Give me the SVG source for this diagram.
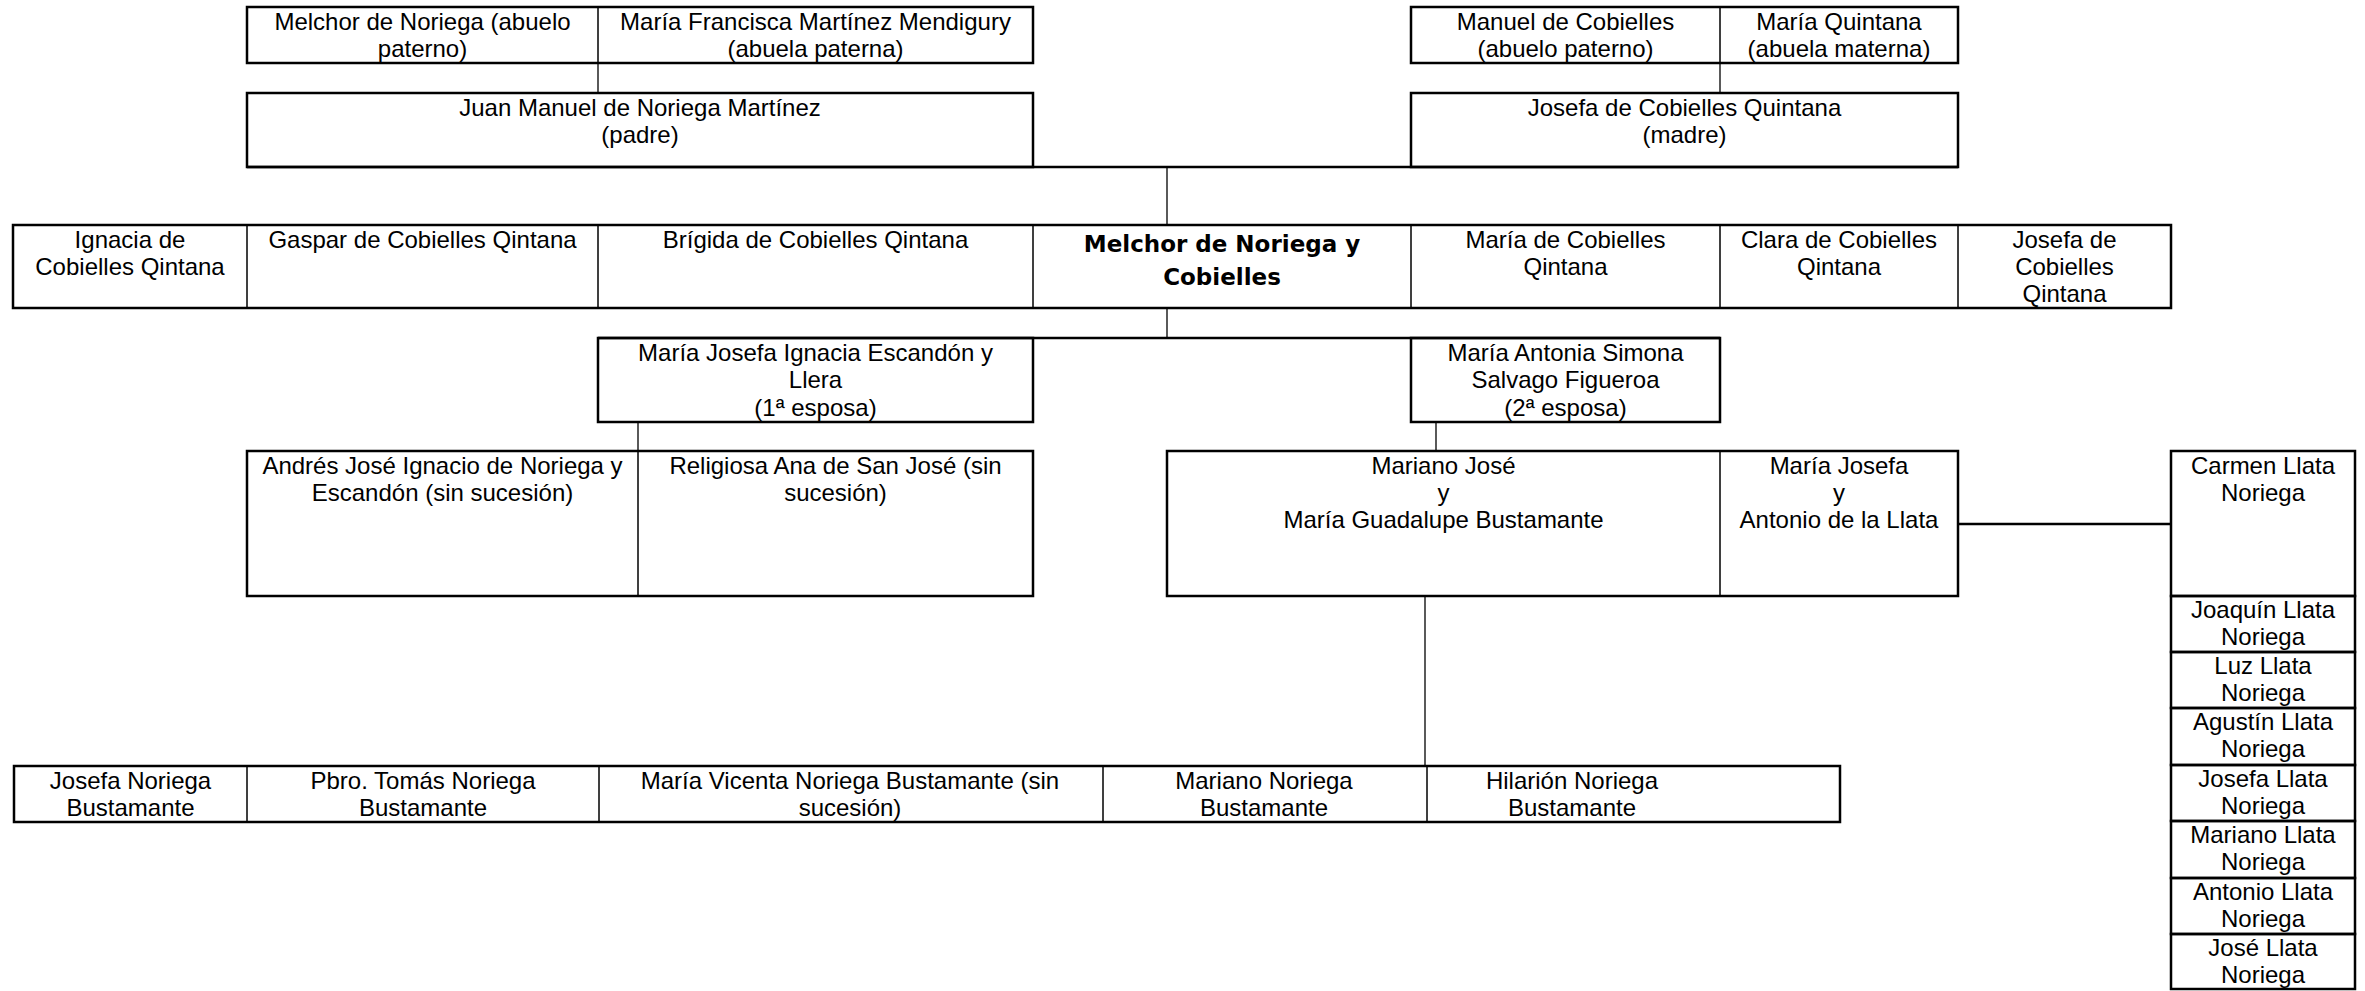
<svg xmlns="http://www.w3.org/2000/svg" width="2365" height="991" viewBox="0 0 2365 991">
<style>
.bg{fill:#fff}
.cell{fill:none;stroke:#000;stroke-width:1}
.frame{fill:none;stroke:#000;stroke-width:2.5}
.thick{stroke:#000;stroke-width:2.5}
.conn{stroke:#000;stroke-width:1.3;fill:none}
text{font-family:"Liberation Sans",Arial,sans-serif;font-size:24px;fill:#000;text-anchor:middle}
text.bold{font-family:"DejaVu Sans","Liberation Sans",sans-serif;font-weight:bold;font-size:23px}
</style>
<rect class="bg" x="0" y="0" width="2365" height="991"/>

<g id="connectors">
<line class="conn" x1="598" y1="63" x2="598" y2="93"/>
<line class="conn" x1="1720" y1="63" x2="1720" y2="93"/>
<line class="conn" x1="1167" y1="167" x2="1167" y2="225"/>
<line class="conn" x1="1167" y1="308" x2="1167" y2="338"/>
<line class="conn" x1="638" y1="422" x2="638" y2="451"/>
<line class="conn" x1="1436" y1="422" x2="1436" y2="451"/>
<line class="conn" x1="1425" y1="596" x2="1425" y2="766"/>
<line class="thick" x1="1958" y1="524" x2="2171" y2="524"/>
</g>

<!-- Row 1 -->
<g id="abuelo-paterno-noriega"><rect class="cell" x="247" y="7" width="351" height="56"/>
<text x="422.5" y="30"><tspan x="422.5">Melchor de Noriega (abuelo</tspan><tspan x="422.5" dy="27">paterno)</tspan></text></g>
<g id="abuela-paterna"><rect class="cell" x="598" y="7" width="435" height="56"/>
<text x="815.5" y="30"><tspan x="815.5">María Francisca Martínez Mendigury</tspan><tspan x="815.5" dy="27">(abuela paterna)</tspan></text></g>
<rect class="frame" x="247" y="7" width="786" height="56"/>
<g id="abuelo-cobielles"><rect class="cell" x="1411" y="7" width="309" height="56"/>
<text x="1565.5" y="30"><tspan x="1565.5">Manuel de Cobielles</tspan><tspan x="1565.5" dy="27">(abuelo paterno)</tspan></text></g>
<g id="abuela-materna"><rect class="cell" x="1720" y="7" width="238" height="56"/>
<text x="1839" y="30"><tspan x="1839">María Quintana</tspan><tspan x="1839" dy="27">(abuela materna)</tspan></text></g>
<rect class="frame" x="1411" y="7" width="547" height="56"/>

<!-- Row 2 -->
<g id="padre"><rect class="frame" x="247" y="93" width="786" height="74"/>
<text x="640" y="115.5"><tspan x="640">Juan Manuel de Noriega Martínez</tspan><tspan x="640" dy="27">(padre)</tspan></text></g>
<g id="madre"><rect class="frame" x="1411" y="93" width="547" height="74"/>
<text x="1684.5" y="115.5"><tspan x="1684.5">Josefa de Cobielles Quintana</tspan><tspan x="1684.5" dy="27">(madre)</tspan></text></g>
<line class="thick" x1="247" y1="167" x2="1958" y2="167"/>

<!-- Row 3 -->
<g id="ignacia"><rect class="cell" x="13" y="225" width="234" height="83"/>
<text x="130" y="247.5"><tspan x="130">Ignacia de</tspan><tspan x="130" dy="27">Cobielles Qintana</tspan></text></g>
<g id="gaspar"><rect class="cell" x="247" y="225" width="351" height="83"/>
<text x="422.5" y="247.5">Gaspar de Cobielles Qintana</text></g>
<g id="brigida"><rect class="cell" x="598" y="225" width="435" height="83"/>
<text x="815.5" y="247.5">Brígida de Cobielles Qintana</text></g>
<g id="melchor"><rect class="cell" x="1033" y="225" width="378" height="83"/>
<text class="bold" x="1222" y="251.5"><tspan x="1222">Melchor de Noriega y</tspan><tspan x="1222" dy="33">Cobielles</tspan></text></g>
<g id="maria-cobielles"><rect class="cell" x="1411" y="225" width="309" height="83"/>
<text x="1565.5" y="247.5"><tspan x="1565.5">María de Cobielles</tspan><tspan x="1565.5" dy="27">Qintana</tspan></text></g>
<g id="clara"><rect class="cell" x="1720" y="225" width="238" height="83"/>
<text x="1839" y="247.5"><tspan x="1839">Clara de Cobielles</tspan><tspan x="1839" dy="27">Qintana</tspan></text></g>
<g id="josefa-cobielles"><rect class="cell" x="1958" y="225" width="213" height="83"/>
<text x="2064.5" y="247.5"><tspan x="2064.5">Josefa de</tspan><tspan x="2064.5" dy="27">Cobielles</tspan><tspan x="2064.5" dy="27">Qintana</tspan></text></g>
<rect class="frame" x="13" y="225" width="2158" height="83"/>

<!-- Row 4 -->
<g id="esposa1"><rect class="frame" x="598" y="338" width="435" height="84"/>
<text x="815.5" y="360.5"><tspan x="815.5">María Josefa Ignacia Escandón y</tspan><tspan x="815.5" dy="27.5">Llera</tspan><tspan x="815.5" dy="27.5">(1ª esposa)</tspan></text></g>
<g id="esposa2"><rect class="frame" x="1411" y="338" width="309" height="84"/>
<text x="1565.5" y="360.5"><tspan x="1565.5">María Antonia Simona</tspan><tspan x="1565.5" dy="27.5">Salvago Figueroa</tspan><tspan x="1565.5" dy="27.5">(2ª esposa)</tspan></text></g>
<line class="thick" x1="598" y1="338" x2="1720" y2="338"/>

<!-- Row 5 -->
<g id="andres"><rect class="cell" x="247" y="451" width="391" height="145"/>
<text x="442.5" y="473.5"><tspan x="442.5">Andrés José Ignacio de Noriega y</tspan><tspan x="442.5" dy="27">Escandón (sin sucesión)</tspan></text></g>
<g id="religiosa"><rect class="cell" x="638" y="451" width="395" height="145"/>
<text x="835.5" y="473.5"><tspan x="835.5">Religiosa Ana de San José (sin</tspan><tspan x="835.5" dy="27">sucesión)</tspan></text></g>
<rect class="frame" x="247" y="451" width="786" height="145"/>
<g id="mariano-jose"><rect class="cell" x="1167" y="451" width="553" height="145"/>
<text x="1443.5" y="473.5"><tspan x="1443.5">Mariano José</tspan><tspan x="1443.5" dy="27">y</tspan><tspan x="1443.5" dy="27">María Guadalupe Bustamante</tspan></text></g>
<g id="maria-josefa"><rect class="cell" x="1720" y="451" width="238" height="145"/>
<text x="1839" y="473.5"><tspan x="1839">María Josefa</tspan><tspan x="1839" dy="27">y</tspan><tspan x="1839" dy="27">Antonio de la Llata</tspan></text></g>
<rect class="frame" x="1167" y="451" width="791" height="145"/>

<!-- Llata column -->
<g id="carmen"><rect class="frame" x="2171" y="451" width="184" height="145"/>
<text x="2263" y="473.5"><tspan x="2263">Carmen Llata</tspan><tspan x="2263" dy="27">Noriega</tspan></text></g>
<g id="joaquin"><rect class="frame" x="2171" y="596" width="184" height="56"/>
<text x="2263" y="618"><tspan x="2263">Joaquín Llata</tspan><tspan x="2263" dy="27">Noriega</tspan></text></g>
<g id="luz"><rect class="frame" x="2171" y="652" width="184" height="56"/>
<text x="2263" y="674"><tspan x="2263">Luz Llata</tspan><tspan x="2263" dy="27">Noriega</tspan></text></g>
<g id="agustin"><rect class="frame" x="2171" y="708" width="184" height="57"/>
<text x="2263" y="730"><tspan x="2263">Agustín Llata</tspan><tspan x="2263" dy="27">Noriega</tspan></text></g>
<g id="josefa-llata"><rect class="frame" x="2171" y="765" width="184" height="56"/>
<text x="2263" y="787"><tspan x="2263">Josefa Llata</tspan><tspan x="2263" dy="27">Noriega</tspan></text></g>
<g id="mariano-llata"><rect class="frame" x="2171" y="821" width="184" height="57"/>
<text x="2263" y="843"><tspan x="2263">Mariano Llata</tspan><tspan x="2263" dy="27">Noriega</tspan></text></g>
<g id="antonio-llata"><rect class="frame" x="2171" y="878" width="184" height="56"/>
<text x="2263" y="900"><tspan x="2263">Antonio Llata</tspan><tspan x="2263" dy="27">Noriega</tspan></text></g>
<g id="jose-llata"><rect class="frame" x="2171" y="934" width="184" height="55"/>
<text x="2263" y="956"><tspan x="2263">José Llata</tspan><tspan x="2263" dy="27">Noriega</tspan></text></g>

<!-- Row 6 -->
<g id="josefa-noriega"><rect class="cell" x="14" y="766" width="233" height="56"/>
<text x="130.5" y="788.5"><tspan x="130.5">Josefa Noriega</tspan><tspan x="130.5" dy="27">Bustamante</tspan></text></g>
<g id="tomas"><rect class="cell" x="247" y="766" width="352" height="56"/>
<text x="423" y="788.5"><tspan x="423">Pbro. Tomás Noriega</tspan><tspan x="423" dy="27">Bustamante</tspan></text></g>
<g id="maria-vicenta"><rect class="cell" x="599" y="766" width="504" height="56"/>
<text x="850" y="788.5"><tspan x="850">María Vicenta Noriega Bustamante (sin</tspan><tspan x="850" dy="27">sucesión)</tspan></text></g>
<g id="mariano-noriega"><rect class="cell" x="1103" y="766" width="324" height="56"/>
<text x="1264" y="788.5"><tspan x="1264">Mariano Noriega</tspan><tspan x="1264" dy="27">Bustamante</tspan></text></g>
<g id="hilarion"><rect class="cell" x="1427" y="766" width="413" height="56"/>
<text x="1572" y="788.5"><tspan x="1572">Hilarión Noriega</tspan><tspan x="1572" dy="27">Bustamante</tspan></text></g>
<rect class="frame" x="14" y="766" width="1826" height="56"/>
</svg>
